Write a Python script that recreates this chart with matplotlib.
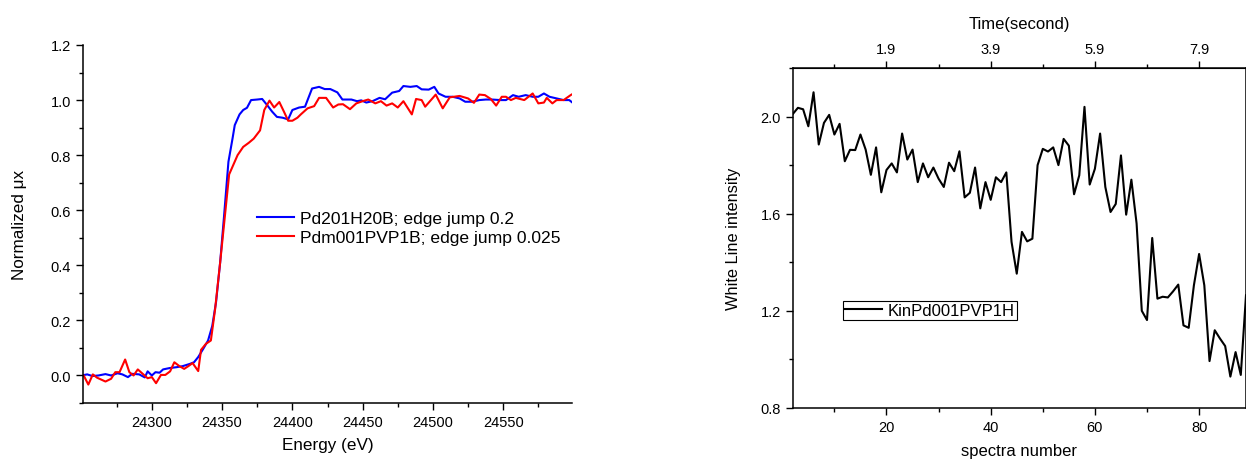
import numpy as np
import matplotlib
matplotlib.use("Agg")
import matplotlib.pyplot as plt
from matplotlib.ticker import MultipleLocator, FixedLocator

plt.rcParams['font.family'] = ['Liberation Sans', 'DejaVu Sans']

# ----- left panel: normalized XANES -----
e_blue = [24250, 24254, 24257.7, 24262, 24267, 24271, 24275.6, 24279, 24283, 24286,
          24291, 24295, 24297, 24300, 24302.6, 24305.5, 24308, 24312.7, 24317.5, 24322,
          24327, 24330, 24333, 24336.6, 24340, 24343, 24345.7, 24348.6, 24351.4, 24354.5,
          24357.4, 24359, 24362.4, 24365, 24367.7, 24370.6, 24375, 24378.5, 24382, 24385.6,
          24389, 24393, 24397, 24400, 24404.8, 24409, 24414, 24419, 24423, 24427,
          24432, 24435.6, 24439, 24442, 24446, 24449, 24452.6, 24457, 24462, 24466,
          24471, 24476, 24479, 24484, 24488.5, 24492, 24497, 24501, 24504, 24509,
          24514, 24519, 24523, 24528, 24533, 24537.6, 24542, 24548, 24552, 24557,
          24561, 24566, 24571, 24575, 24579, 24583, 24588, 24593, 24597, 24601]
mu_blue = [0.0, 0.004, -0.002, 0.0, 0.005, 0.0, 0.008, 0.004, -0.006, 0.006,
           0.004, -0.007, 0.015, 0.0, 0.012, 0.01, 0.022, 0.027, 0.03, 0.034,
           0.042, 0.048, 0.067, 0.097, 0.127, 0.18, 0.267, 0.41, 0.58, 0.776,
           0.86, 0.909, 0.948, 0.964, 0.972, 1.0, 1.002, 1.004, 0.982, 0.958,
           0.939, 0.936, 0.93, 0.964, 0.973, 0.976, 1.042, 1.048, 1.04, 1.04,
           1.028, 1.002, 1.002, 1.002, 0.996, 0.999, 0.991, 0.996, 1.008, 1.003,
           1.027, 1.033, 1.051, 1.048, 1.051, 1.039, 1.038, 1.048, 1.024, 1.012,
           1.012, 1.006, 0.994, 0.994, 1.0, 1.002, 1.002, 1.0, 1.0, 1.018,
           1.012, 1.018, 1.012, 1.012, 1.024, 1.012, 1.006, 1.0, 1.0, 0.984]

e_red = [24250, 24251.5, 24254.8, 24258, 24261, 24267, 24271, 24274, 24277, 24281,
         24284, 24287, 24290, 24293.5, 24297, 24300, 24303, 24306.5, 24309.6, 24313,
         24316, 24319.6, 24323, 24326, 24329, 24333, 24335, 24338.5, 24342, 24345,
         24348.6, 24352, 24355, 24361, 24365, 24369, 24372.5, 24377, 24380, 24383.7,
         24387, 24390.7, 24394, 24397, 24400, 24403.6, 24406, 24410.8, 24415.5, 24419,
         24424, 24429, 24432.7, 24436, 24441, 24445.5, 24450, 24454, 24459, 24463,
         24467, 24471, 24475, 24479, 24485, 24488, 24492, 24494.5, 24502, 24507,
         24512, 24519, 24525, 24529.2, 24533, 24537, 24541.2, 24545, 24549, 24552,
         24555.5, 24559, 24565, 24571, 24575, 24579, 24581, 24585, 24588, 24593,
         24598, 24601]
mu_red = [0.0, 0.0, -0.033, 0.004, -0.008, -0.022, -0.012, 0.012, 0.012, 0.058,
          0.012, 0.0, 0.022, 0.006, -0.01, -0.006, -0.028, 0.002, 0.002, 0.015,
          0.048, 0.034, 0.024, 0.034, 0.045, 0.016, 0.093, 0.115, 0.127, 0.24,
          0.41, 0.58, 0.73, 0.80, 0.83, 0.845, 0.86, 0.89, 0.964, 0.998,
          0.973, 0.993, 0.958, 0.925, 0.925, 0.936, 0.948, 0.97, 0.978, 1.008,
          1.008, 0.973, 0.984, 0.985, 0.967, 0.988, 0.996, 1.002, 0.988, 0.996,
          0.98, 0.988, 0.973, 0.996, 0.948, 1.004, 1.0, 0.976, 1.02, 0.97,
          1.01, 1.015, 1.006, 0.99, 1.02, 1.018, 1.004, 0.98, 1.012, 1.012,
          1.0, 1.008, 1.0, 1.024, 0.988, 0.991, 1.008, 0.988, 1.0, 1.0,
          1.018, 1.027]

label_blue = "Pd201H20B; edge jump 0.2"
label_red = "Pdm001PVP1B; edge jump 0.025"

# ----- right panel: white line kinetics -----
spectra = list(range(2, 90))
white_line = [2.01, 2.036, 2.03, 1.96, 2.10, 1.885, 1.974, 2.007, 1.926, 1.97,
              1.816, 1.863, 1.862, 1.926, 1.864, 1.76, 1.873, 1.688, 1.78, 1.807,
              1.77, 1.93, 1.823, 1.864, 1.73, 1.807, 1.75, 1.79, 1.744, 1.71,
              1.81, 1.775, 1.857, 1.667, 1.686, 1.79, 1.622, 1.73, 1.657, 1.75,
              1.73, 1.77, 1.484, 1.353, 1.525, 1.486, 1.497, 1.80, 1.867, 1.856,
              1.873, 1.80, 1.908, 1.88, 1.68, 1.758, 2.04, 1.72, 1.785, 1.93,
              1.71, 1.607, 1.64, 1.84, 1.596, 1.74, 1.56, 1.20, 1.162, 1.50,
              1.25, 1.258, 1.255, 1.28, 1.308, 1.14, 1.13, 1.305, 1.434, 1.305,
              0.993, 1.12, 1.086, 1.055, 0.929, 1.03, 0.936, 1.264]
kin_label = "KinPd001PVP1H"

fig = plt.figure(figsize=(12.46, 4.6), dpi=100)

# ----- left axes -----
ax1 = fig.add_axes([0.0666, 0.1217, 0.3925, 0.7783])
ax1.plot(e_blue, mu_blue, color='#0000ff', lw=1.5, label=label_blue)
ax1.plot(e_red, mu_red, color='#ff0000', lw=1.5, label=label_red)
ax1.set_xlim(24251, 24599)
ax1.set_ylim(-0.1, 1.2)
ax1.xaxis.set_major_locator(MultipleLocator(50))
ax1.xaxis.set_minor_locator(MultipleLocator(25))
ax1.yaxis.set_major_locator(MultipleLocator(0.2))
ax1.yaxis.set_minor_locator(MultipleLocator(0.1))
ax1.yaxis.set_major_formatter(plt.FormatStrFormatter('%.1f'))
ax1.spines['top'].set_visible(False)
ax1.spines['right'].set_visible(False)
for s in ['left', 'bottom']:
    ax1.spines[s].set_linewidth(1.1)
ax1.tick_params(which='major', direction='out', length=5, width=1.0, labelsize=10.5)
ax1.tick_params(which='minor', direction='out', length=3, width=1.0)
ax1.set_xlabel("Energy (eV)", fontsize=12.3, labelpad=6)
ax1.set_ylabel("Normalized μx", fontsize=12.3, labelpad=17)
ax1.legend(loc='center left', bbox_to_anchor=(0.355, 0.488), frameon=False,
           fontsize=12.6, handlelength=2.15, handletextpad=0.35,
           labelspacing=0.22, borderpad=0, borderaxespad=0)

# ----- right axes -----
ax2 = fig.add_axes([0.6362, 0.111, 0.3638, 0.739])
ax2.plot(spectra, white_line, color='black', lw=1.5, label=kin_label)
ax2.set_xlim(2, 89)
ax2.set_ylim(0.8, 2.2)
ax2.xaxis.set_major_locator(MultipleLocator(20))
ax2.xaxis.set_minor_locator(MultipleLocator(10))
ax2.yaxis.set_major_locator(MultipleLocator(0.4))
ax2.yaxis.set_minor_locator(MultipleLocator(0.2))
ax2.yaxis.set_major_formatter(plt.FormatStrFormatter('%.1f'))
for s in ax2.spines.values():
    s.set_linewidth(1.1)
ax2.tick_params(which='major', direction='out', length=5, width=1.0, labelsize=10.5)
ax2.tick_params(which='minor', direction='out', length=3, width=1.0)
ax2.set_xlabel("spectra number", fontsize=12, labelpad=7)
ax2.set_ylabel("White Line intensity", fontsize=11.8, labelpad=14)
ax2.legend(loc='lower left', bbox_to_anchor=(0.111, 0.259), fancybox=False,
           edgecolor='black', framealpha=1, fontsize=12, handlelength=2.2,
           handletextpad=0.35, borderpad=0.12, borderaxespad=0)
ax2.get_legend().get_frame().set_linewidth(0.8)

# top axis: time in seconds
top = ax2.secondary_xaxis('top', functions=(lambda s: 0.1 * s - 0.1,
                                            lambda t: (t + 0.1) * 10))
top.xaxis.set_major_locator(FixedLocator([1.9, 3.9, 5.9, 7.9]))
top.xaxis.set_minor_locator(FixedLocator([0.9, 2.9, 4.9, 6.9]))
top.xaxis.set_major_formatter(plt.FormatStrFormatter('%.1f'))
top.tick_params(which='major', direction='out', length=5, width=1.0, labelsize=10.5)
top.tick_params(which='minor', direction='out', length=3, width=1.0)
top.set_xlabel("Time(second)", fontsize=12, labelpad=10)

fig.savefig("out.png", dpi=100)
